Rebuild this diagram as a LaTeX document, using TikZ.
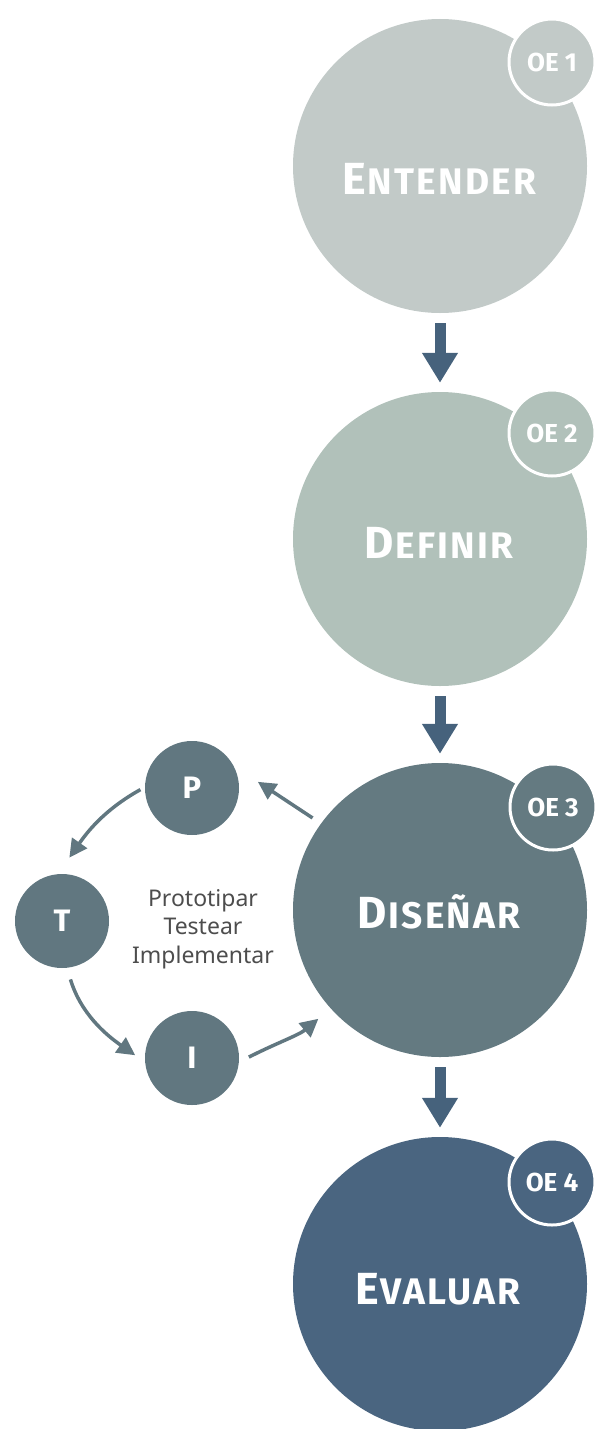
\documentclass[tikz,border=0pt]{standalone}
\usepackage{fontspec}
\newfontfamily\titlefont{Fira Sans}
\newfontfamily\spacedfont[LetterSpace=6]{Fira Sans}
\newfontfamily\bodyfont{Noto Sans}
\usetikzlibrary{arrows.meta}
\definecolor{cEnt}{HTML}{C2CAC8}
\definecolor{cDef}{HTML}{B1C1BA}
\definecolor{cDis}{HTML}{647A81}
\definecolor{cEva}{HTML}{4A6580}
\definecolor{cArr}{HTML}{46627C}
\definecolor{cLoop}{HTML}{617780}
\definecolor{cTxt}{HTML}{4D4D4D}
\newcommand{\fsc}[2]{{\fontsize{45}{45}\selectfont #1\kern2pt}{\fontsize{37}{37}\selectfont #2}}
\begin{document}
\begin{tikzpicture}[x=1pt,y=-1pt,
  big/.style={circle, minimum size=294pt, inner sep=0pt},
  badge/.style={circle, minimum size=86pt, inner sep=0pt, draw=white, line width=3pt, text=white, font=\titlefont\bfseries\fontsize{26}{26}\selectfont},
  title/.style={text=white, font=\spacedfont\bfseries, inner sep=0pt, anchor=base},
  bigarrow/.style={draw=cArr, line width=11pt, -{Triangle[length=30pt,width=34pt]}, shorten <=10pt, shorten >=9pt},
  small/.style={circle, minimum size=94pt, inner sep=0pt, fill=cLoop, text=white, font=\titlefont\bfseries\fontsize{31}{31}\selectfont},
  looparrow/.style={draw=cLoop, line width=3.5pt, -{Triangle[length=18pt,width=18pt]}},
]
\useasboundingbox (0,0) rectangle (600,1429);
% main circles
\node[big, fill=cEnt] (ent) at (440,166) {};
\node[big, fill=cDef] (def) at (440,539) {};
\node[big, fill=cDis] (dis) at (440,910) {};
\node[big, fill=cEva] (eva) at (440,1284) {};
% titles
\node[title] (tent) at (439,194) {\fsc{E}{NTENDER}};
\node[title] (tdef) at (439,558) {\fsc{D}{EFINIR}};
\node[title] (tdis) at (439,928) {\fsc{D}{ISEÑAR}};
\node[title] (teva) at (438,1304) {\fsc{E}{VALUAR}};
% badges
\node[badge, fill=cEnt] (b1) at (552,62) {OE 1};
\node[badge, fill=cDef] (b2) at (552,433) {OE 2};
\node[badge, fill=cDis] (b3) at (553,807) {OE 3};
\node[badge, fill=cEva] (b4) at (552,1182) {OE 4};
% big arrows
\draw[bigarrow] (ent.south) -- (def.north);
\draw[bigarrow] (def.south) -- (dis.north);
\draw[bigarrow] (dis.south) -- (eva.north);
% loop
\node[small] (P) at (192,788) {P};
\node[small] (T) at (62,921) {T};
\node[small] (I) at (192,1058) {I};
\node[text=cTxt, align=center, font=\bodyfont\fontsize{23}{28.5}\selectfont, inner sep=0pt] (loop) at (203,929) {Prototipar\\Testear\\Implementar};
\draw[looparrow, shorten <=10pt, shorten >=29pt] (dis.144) -- (P.28);
\draw[looparrow, shorten <=5pt, shorten >=20pt] (P.179) to[out=209,in=55] (T.95);
\draw[looparrow, shorten <=12pt, shorten >=12pt] (T.276) to[out=287,in=145] (I.185);
\draw[looparrow, shorten <=11pt, shorten >=16pt] (I.355) to[out=27,in=220] (dis.222);
\end{tikzpicture}
\end{document}
